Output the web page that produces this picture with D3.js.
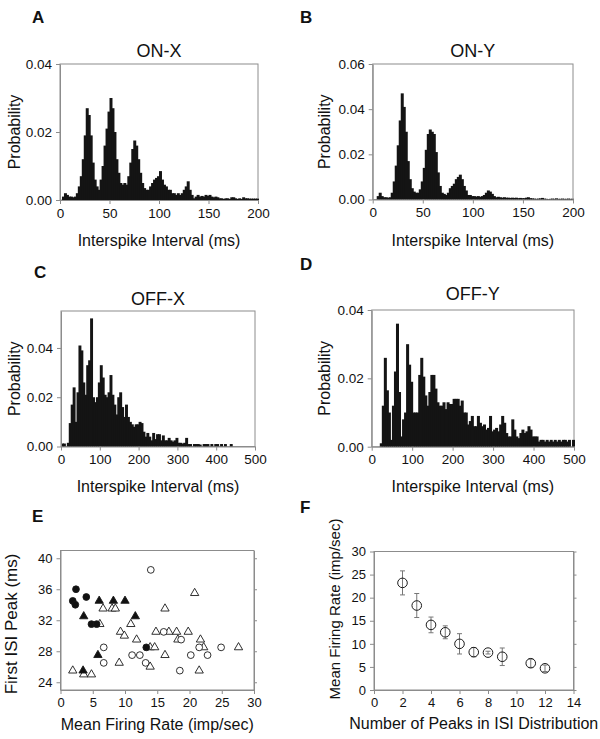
<!DOCTYPE html>
<html><head><meta charset="utf-8">
<script src="https://cdn.jsdelivr.net/npm/d3@7"></script>
<style>body{margin:0;background:#fff}svg{display:block}text{font-family:"Liberation Sans",Arial,sans-serif}</style>
</head><body><svg id="c" width="600" height="739"></svg>
<script>
// ---------- DATA ----------
// ISI histograms: probability per bin (A,B: 2 ms bins from 0 to 200 ms; C,D: 5 ms bins from 0 to 500 ms)
const onXProb = [0,0.001,0.002,0.0015,0.001,0.001,0.0008,0.001,0.002,0.004,
 0.007,0.012,0.019,0.027,0.025,0.019,0.011,0.006,0.004,0.003,
 0.006,0.010,0.016,0.021,0.026,0.030,0.027,0.020,0.012,0.008,
 0.005,0.0045,0.005,0.0045,0.007,0.011,0.015,0.0175,0.016,0.012,
 0.008,0.005,0.0035,0.003,0.003,0.004,0.005,0.006,0.0065,0.007,
 0.0085,0.006,0.0045,0.004,0.003,0.003,0.002,0.002,0.0015,0.002,
 0.0015,0.002,0.003,0.004,0.0055,0.003,0.0015,0.0005,0.001,0.0015,
 0.001,0.0012,0.001,0.0015,0.0012,0.0015,0.001,0.0008,0.001,0.0008,
 0.0005,0.0005,0.0003,0.0005,0.0005,0.0003,0.0008,0.0008,0.0005,0.0003,
 0.0005,0.0003,0.0008,0.0005,0.0005,0.0004,0.0004,0.0004,0.0004,0.0004];
const onYProb = [0,0,0.0015,0.003,0.0015,0.001,0.001,0.0008,0.001,0.003,
 0.008,0.015,0.024,0.035,0.047,0.041,0.030,0.017,0.009,0.005,
 0.0035,0.003,0.003,0.0045,0.008,0.014,0.022,0.029,0.031,0.030,
 0.029,0.021,0.012,0.006,0.003,0.0025,0.002,0.003,0.005,0.006,
 0.007,0.009,0.010,0.011,0.009,0.006,0.004,0.002,0.002,0.0015,
 0.0015,0.0013,0.0015,0.0012,0.0015,0.002,0.003,0.004,0.0035,0.0025,
 0.0015,0.001,0.0012,0.001,0.0008,0.001,0.0008,0.0008,0.0007,0.0008,
 0.0007,0.0008,0.0006,0.0007,0.0006,0.0006,0.0008,0.001,0.0006,0.0005,
 0.0004,0.0003,0.0004,0.0005,0.0007,0.0004,0.0003,0.0002,0.0003,0.0004,
 0.0003,0.0005,0.0003,0.0003,0.0004,0.0003,0.0003,0.0004,0.0003,0.0003];
const offXProb = [0.0012,0.0012,0,0.0015,0.0095,0.017,0.024,0.010,0.022,0.041,
 0.039,0.026,0.021,0.033,0.035,0.052,0.020,0.018,0.020,0.026,
 0.033,0.028,0.021,0.020,0.022,0.029,0.021,0.017,0.013,0.020,
 0.022,0.016,0.012,0.017,0.012,0.010,0.009,0.008,0.009,0.009,
 0.010,0.0095,0.006,0.004,0.0055,0.004,0.0025,0.0055,0.003,0.005,
 0.005,0.0025,0.0045,0.0025,0.0025,0.0035,0.0025,0.002,0.0025,0.0035,
 0.0015,0.0015,0.0012,0.0015,0.0035,0.001,0.001,0,0.001,0.001,
 0.001,0.0008,0,0.001,0.001,0.001,0,0.001,0,0.001,
 0.001,0,0.001,0,0.001,0,0,0.001,0,0,
 0,0,0,0,0,0,0,0,0,0];
const offYProb = [0,0,0,0,0.001,0.012,0.026,0.0165,0.010,0.002,
 0.012,0.022,0.036,0.016,0.003,0.008,0.010,0.030,0.024,0.019,
 0.010,0.010,0.010,0.021,0.026,0.0205,0.015,0.012,0.016,0.021,
 0.021,0.017,0.013,0.012,0.012,0.013,0.011,0.013,0.0125,0.0125,
 0.014,0.014,0.014,0.012,0.0135,0.010,0.010,0.0065,0.0075,0.009,
 0.006,0.006,0.009,0.007,0.006,0.0065,0.005,0.0055,0.009,0.0045,
 0.005,0.0055,0.0045,0.0065,0.009,0.007,0.004,0.003,0.003,0.008,
 0.005,0.003,0.0025,0.004,0.005,0.004,0.0045,0.006,0.005,0.003,
 0.003,0.003,0.0015,0.002,0.002,0.0015,0.002,0.0015,0.002,0.0015,
 0.002,0.0015,0.002,0.0015,0.002,0.002,0.0015,0.002,0,0.002];
const shortBinMs = 2, longBinMs = 5;
const shortTicks = [0,50,100,150,200];
const longTicks = [0,100,200,300,400,500];

// Panel E: [mean firing rate (imp/sec), first ISI peak (ms)]
const filledCircles = [[2.4,36],[1.9,34.5],[2.3,34],[4.0,35],[4.8,31.5],[5.6,31.5],[13.3,28.5]];
const filledTriangles = [[6.0,34.5],[8.2,34.5],[10.0,34.5],[3.6,32.5],[11.6,32.5],[5.8,27.5],[3.5,25.5]];
const openCircles = [[14.0,38.5],[6.7,28.5],[6.7,26.5],[11.1,27.5],[12.3,27.5],[13.2,26.5],[16.0,30.5],[18.7,29.5],[18.5,25.5],[20.2,27.5],[21.5,28.5],[22.8,27.5],[24.9,28.5]];
const openTriangles = [[1.9,25.5],[3.6,25],[4.8,25],[6.1,31.5],[6.6,33.5],[8.0,33.5],[8.5,33.5],[9.3,30.5],[9.9,30],[10.9,31.5],[11.8,29.5],[9.1,26.5],[13.9,28.5],[14.6,28.5],[13.9,26],[14.8,30.5],[16.2,33.5],[16.2,27.5],[16.8,30.5],[18.0,30.5],[18.2,29.5],[19.8,30.5],[20.8,35.5],[21.7,29.5],[22.2,28.5],[21.5,25.5],[27.6,28.5]];
const eXTicks = [0,5,10,15,20,25,30];
const eYTicks = [24,28,32,36,40];

// Panel F
const numPeaks = [2,3,4,5,6,7,8,9,11,12];
const meanRate = [23.2,18.3,14.1,12.5,10.0,8.2,8.1,7.2,5.8,4.7];
const rateSem = [2.6,2.6,1.7,1.4,2.2,1.0,0.3,1.9,0.9,0.7];
const fXTicks = [0,2,4,6,8,10,12,14];
const fYTicks = [0,5,10,15,20,25,30];

// ---------- DRAWING ----------
const svg = d3.select('#c');
const FRAME = '#8c8c8c', INK = '#111';

function styleAxis(g, fs) {
  g.select('.domain').attr('stroke', FRAME);
  g.selectAll('.tick line').attr('stroke', FRAME);
  g.selectAll('.tick text').attr('fill', INK).style('font-size', fs + 'px');
}
function text(x, y, s, fs, opts = {}) {
  const t = svg.append('text').attr('x', x).attr('y', y).text(s)
    .style('font-size', fs + 'px').attr('fill', INK)
    .attr('text-anchor', opts.anchor || 'middle');
  if (opts.bold) t.style('font-weight', 'bold');
  if (opts.rotate) t.attr('transform', `rotate(-90,${x},${y})`);
  return t;
}
function frame(p) {
  svg.append('rect').attr('x', p.left).attr('y', p.top)
    .attr('width', p.right - p.left).attr('height', p.bottom - p.top)
    .attr('fill', 'none').attr('stroke', FRAME);
}

function histogram(p) {
  const x = d3.scaleLinear().domain([0, p.xmax]).range([p.left, p.right]);
  const y = d3.scaleLinear().domain([0, p.ymax]).range([p.bottom, p.top]);
  frame(p);
  svg.append('g').selectAll('rect').data(p.values).join('rect')
    .attr('x', (d, i) => x(i * p.bin))
    .attr('width', (d, i) => x((i + 1) * p.bin) - x(i * p.bin) + 1)
    .attr('y', d => y(d)).attr('height', d => y(0) - y(d))
    .attr('fill', '#141414');
  const gx = svg.append('g').attr('transform', `translate(0,${p.bottom})`)
    .call(d3.axisBottom(x).tickValues(p.xticks).tickSize(4).tickSizeOuter(0).tickPadding(4));
  styleAxis(gx, 13.5);
  const gy = svg.append('g').attr('transform', `translate(${p.left},0)`)
    .call(d3.axisLeft(y).tickValues(p.yticks).tickFormat(d3.format('.2f')).tickSize(4).tickSizeOuter(0).tickPadding(4));
  styleAxis(gy, 13.5);
  const cx = (p.left + p.right) / 2;
  text(cx, p.titleY, p.title, 18);
  text(p.letter[1], p.letter[2], p.letter[0], 17, {bold: true, anchor: 'start'});
  text(p.ylabX, (p.top + p.bottom) / 2, 'Probability', 16, {rotate: true});
  text(cx, p.xlabY, 'Interspike Interval (ms)', 16);
}

histogram({values: onXProb, bin: shortBinMs, xmax: 200, ymax: 0.04, xticks: shortTicks, yticks: [0, 0.02, 0.04],
  left: 60, right: 258, top: 64, bottom: 200, title: 'ON-X', titleY: 57, letter: ['A', 32, 23], ylabX: 20, xlabY: 246});
histogram({values: onYProb, bin: shortBinMs, xmax: 200, ymax: 0.06, xticks: shortTicks, yticks: [0, 0.02, 0.04, 0.06],
  left: 372.7, right: 573, top: 64, bottom: 199.5, title: 'ON-Y', titleY: 57, letter: ['B', 300, 23], ylabX: 330, xlabY: 246});
histogram({values: offXProb, bin: longBinMs, xmax: 500, ymax: 0.055, xticks: longTicks, yticks: [0, 0.02, 0.04],
  left: 61, right: 255, top: 311, bottom: 446.5, title: 'OFF-X', titleY: 305, letter: ['C', 34, 278], ylabX: 20, xlabY: 492});
histogram({values: offYProb, bin: longBinMs, xmax: 500, ymax: 0.04, xticks: longTicks, yticks: [0, 0.02, 0.04],
  left: 371.7, right: 574, top: 310, bottom: 446.7, title: 'OFF-Y', titleY: 300, letter: ['D', 300, 270], ylabX: 330, xlabY: 492});

// ---- Panel E ----
(function () {
  const p = {left: 60.5, right: 254, top: 550.5, bottom: 690};
  const x = d3.scaleLinear().domain([0, 30]).range([p.left, p.right]);
  const y = d3.scaleLinear().domain([23, 41]).range([p.bottom, p.top]);
  frame(p);
  const gx = svg.append('g').attr('transform', `translate(0,${p.bottom})`)
    .call(d3.axisBottom(x).tickValues(eXTicks).tickSize(4).tickSizeOuter(0).tickPadding(4));
  styleAxis(gx, 13);
  const gy = svg.append('g').attr('transform', `translate(${p.left},0)`)
    .call(d3.axisLeft(y).tickValues(eYTicks).tickSize(4).tickSizeOuter(0).tickPadding(4));
  styleAxis(gy, 13);
  const gr = svg.append('g').attr('transform', `translate(${p.right},0)`)
    .call(d3.axisRight(y).tickValues(eYTicks).tickFormat('').tickSize(3).tickSizeOuter(0));
  styleAxis(gr, 13);
  const circ = d3.symbol(d3.symbolCircle, 36)();
  const tri = d3.symbol(d3.symbolTriangle, 30)();
  const draw = (data, path, fill) => svg.append('g').selectAll('path').data(data).join('path')
    .attr('d', path).attr('transform', d => `translate(${x(d[0])},${y(d[1])})`)
    .attr('fill', fill).attr('stroke', '#1a1a1a').attr('stroke-width', 0.9);
  draw(openTriangles, tri, '#fff');
  draw(openCircles, circ, '#fff');
  draw(filledTriangles, tri, '#111');
  draw(filledCircles, circ, '#111');
  text(32, 522, 'E', 17, {bold: true, anchor: 'start'});
  text(16.5, 624, 'First ISI Peak (ms)', 17, {rotate: true});
  text((p.left + p.right) / 2, 730, 'Mean Firing Rate (imp/sec)', 16);
})();

// ---- Panel F ----
(function () {
  const p = {left: 374, right: 573.5, top: 551.5, bottom: 690};
  const x = d3.scaleLinear().domain([0, 14]).range([p.left, p.right]);
  const y = d3.scaleLinear().domain([0, 30]).range([p.bottom, p.top]);
  frame(p);
  const gx = svg.append('g').attr('transform', `translate(0,${p.bottom})`)
    .call(d3.axisBottom(x).tickValues(fXTicks).tickSize(4).tickSizeOuter(0).tickPadding(4));
  styleAxis(gx, 13);
  const gy = svg.append('g').attr('transform', `translate(${p.left},0)`)
    .call(d3.axisLeft(y).tickValues(fYTicks).tickSize(4).tickSizeOuter(0).tickPadding(4));
  styleAxis(gy, 13);
  const gr = svg.append('g').attr('transform', `translate(${p.right},0)`)
    .call(d3.axisRight(y).tickValues(fYTicks).tickFormat('').tickSize(3).tickSizeOuter(0));
  styleAxis(gr, 13);
  const pts = numPeaks.map((n, i) => ({n, r: meanRate[i], e: rateSem[i]}));
  const eb = svg.append('g').attr('stroke', '#777').attr('stroke-width', 1);
  pts.forEach(d => {
    eb.append('line').attr('x1', x(d.n)).attr('x2', x(d.n)).attr('y1', y(d.r - d.e)).attr('y2', y(d.r + d.e));
    [d.r - d.e, d.r + d.e].forEach(v => eb.append('line')
      .attr('x1', x(d.n) - 2.5).attr('x2', x(d.n) + 2.5).attr('y1', y(v)).attr('y2', y(v)));
  });
  svg.append('g').selectAll('circle').data(pts).join('circle')
    .attr('cx', d => x(d.n)).attr('cy', d => y(d.r)).attr('r', 4.8)
    .attr('fill', 'none').attr('stroke', '#1a1a1a').attr('stroke-width', 1);
  text(300, 513, 'F', 17, {bold: true, anchor: 'start'});
  text(340, 609, 'Mean Firing Rate (imp/sec)', 15, {rotate: true});
  text((p.left + p.right) / 2, 729, 'Number of Peaks in ISI Distribution', 16);
})();
</script></body></html>
